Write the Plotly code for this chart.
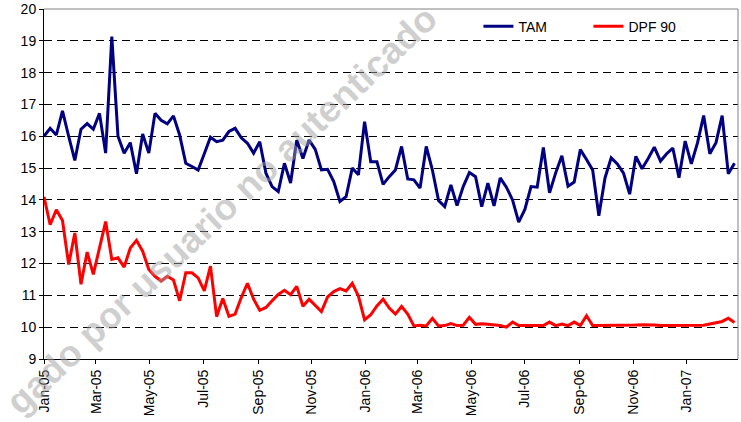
import pandas as pd
import plotly.graph_objects as go

# weekly observations, Jan 2005 - Feb 2007
start_date = "2005-01-01"

tam = [
    16.0, 16.25, 16.04, 16.8, 16.0, 15.24, 16.22, 16.4, 16.22, 16.72,
    15.47, 19.13, 16.0, 15.47, 15.8, 14.82, 16.07, 15.47, 16.72, 16.5,
    16.39, 16.64, 16.04, 15.15, 15.05, 14.94, 15.45, 15.97, 15.83, 15.88,
    16.15, 16.25, 15.95, 15.78, 15.47, 15.83, 14.84, 14.42, 14.26, 15.15,
    14.53, 15.88, 15.3, 15.88, 15.59, 14.94, 14.96, 14.58, 13.95, 14.1,
    15.0, 14.79, 16.46, 15.2, 15.2, 14.49, 14.73, 14.94, 15.68, 14.66,
    14.63, 14.37, 15.68, 14.94, 13.98, 13.79, 14.47, 13.82, 14.42, 14.86,
    14.73, 13.79, 14.53, 13.81, 14.69, 14.4, 14.0, 13.3, 13.7, 14.42,
    14.4, 15.65, 14.22, 14.85, 15.39, 14.43, 14.56, 15.58, 15.27, 14.94,
    13.5, 14.69, 15.32, 15.13, 14.84, 14.18, 15.37, 14.98, 15.3, 15.66,
    15.22, 15.45, 15.63, 14.7, 15.85, 15.13, 15.79, 16.65, 15.45, 15.8,
    16.65, 14.82, 15.15,
]

dpf90 = [
    14.1, 13.22, 13.69, 13.35, 11.97, 12.96, 11.35, 12.36, 11.66, 12.49,
    13.32, 12.13, 12.18, 11.89, 12.49, 12.73, 12.39, 11.81, 11.6, 11.45,
    11.6, 11.48, 10.83, 11.71, 11.71, 11.55, 11.14, 11.92, 10.33, 10.9,
    10.34, 10.41, 10.93, 11.38, 10.88, 10.53, 10.62, 10.83, 11.03, 11.16,
    11.02, 11.28, 10.66, 10.88, 10.69, 10.49, 10.95, 11.12, 11.21, 11.14,
    11.38, 10.98, 10.23, 10.39, 10.67, 10.88, 10.6, 10.41, 10.65, 10.41,
    10.04, 10.06, 10.04, 10.28, 10.04, 10.05, 10.11, 10.05, 10.06, 10.31,
    10.09, 10.11, 10.09, 10.08, 10.05, 10.0, 10.16, 10.05, 10.05, 10.05,
    10.05, 10.05, 10.16, 10.05, 10.1, 10.05, 10.16, 10.05, 10.36, 10.05,
    10.05, 10.05, 10.05, 10.05, 10.05, 10.05, 10.07, 10.08, 10.08, 10.07,
    10.05, 10.05, 10.05, 10.05, 10.05, 10.05, 10.07, 10.06, 10.1, 10.14,
    10.18, 10.28, 10.15,
]

dates = pd.date_range(start_date, periods=len(tam), freq="7D")

font = "Liberation Sans, Arial, sans-serif"

fig = go.Figure()
fig.add_trace(go.Scatter(x=dates, y=tam, name="TAM", mode="lines",
                         line=dict(color="#000080", width=3)))
fig.add_trace(go.Scatter(x=dates, y=dpf90, name="DPF 90", mode="lines",
                         line=dict(color="#ff0000", width=3)))

fig.update_layout(
    width=741, height=422,
    margin=dict(l=44, r=3, t=9, b=63),
    paper_bgcolor="white", plot_bgcolor="white",
    font=dict(family=font, size=14, color="black"),
    showlegend=True,
    legend=dict(orientation="h", x=0.626, y=0.995, xanchor="left", yanchor="top",
                bgcolor="rgba(0,0,0,0)", itemwidth=30,
                entrywidth=65, entrywidthmode="pixels",
                font=dict(size=14)),
    xaxis=dict(
        type="date", range=["2005-01-01", "2007-02-28"],
        tick0="2005-01-01", dtick="M2", tickformat="%b-%y",
        tickangle=-90, ticks="outside", ticklen=4, tickcolor="black",
        showline=True, linecolor="black", linewidth=1,
        showgrid=False, zeroline=False, automargin=False,
        tickfont=dict(size=14),
    ),
    yaxis=dict(
        range=[9, 20], dtick=1, tick0=9,
        ticks="outside", ticklen=4, tickcolor="black",
        showline=True, linecolor="black", linewidth=1,
        showgrid=True, gridcolor="black", gridwidth=1, griddash="8px,5px",
        zeroline=False, automargin=False, tickfont=dict(size=14),
    ),
)

# grey frame on top and right, like the spreadsheet plot area
fig.add_shape(type="line", xref="paper", yref="paper", x0=0, x1=1, y0=1, y1=1,
              line=dict(color="#808080", width=1), layer="above")
fig.add_shape(type="line", xref="paper", yref="paper", x0=1, x1=1, y0=0, y1=1,
              line=dict(color="#808080", width=1), layer="above")

# watermark from the scanned document
fig.add_annotation(text="<b>gado por usuario no autenticado</b>",
                   xref="paper", yref="paper", x=0.257, y=0.426,
                   xanchor="center", yanchor="middle",
                   showarrow=False, textangle=-43.3,
                   font=dict(family=font, size=37, color="rgba(160,160,160,0.5)"))

# drop the default page margin so the figure sits at the window's corner
fig.write_html("out.html", config={"displayModeBar": False},
               post_script="document.body.style.margin='0';")
